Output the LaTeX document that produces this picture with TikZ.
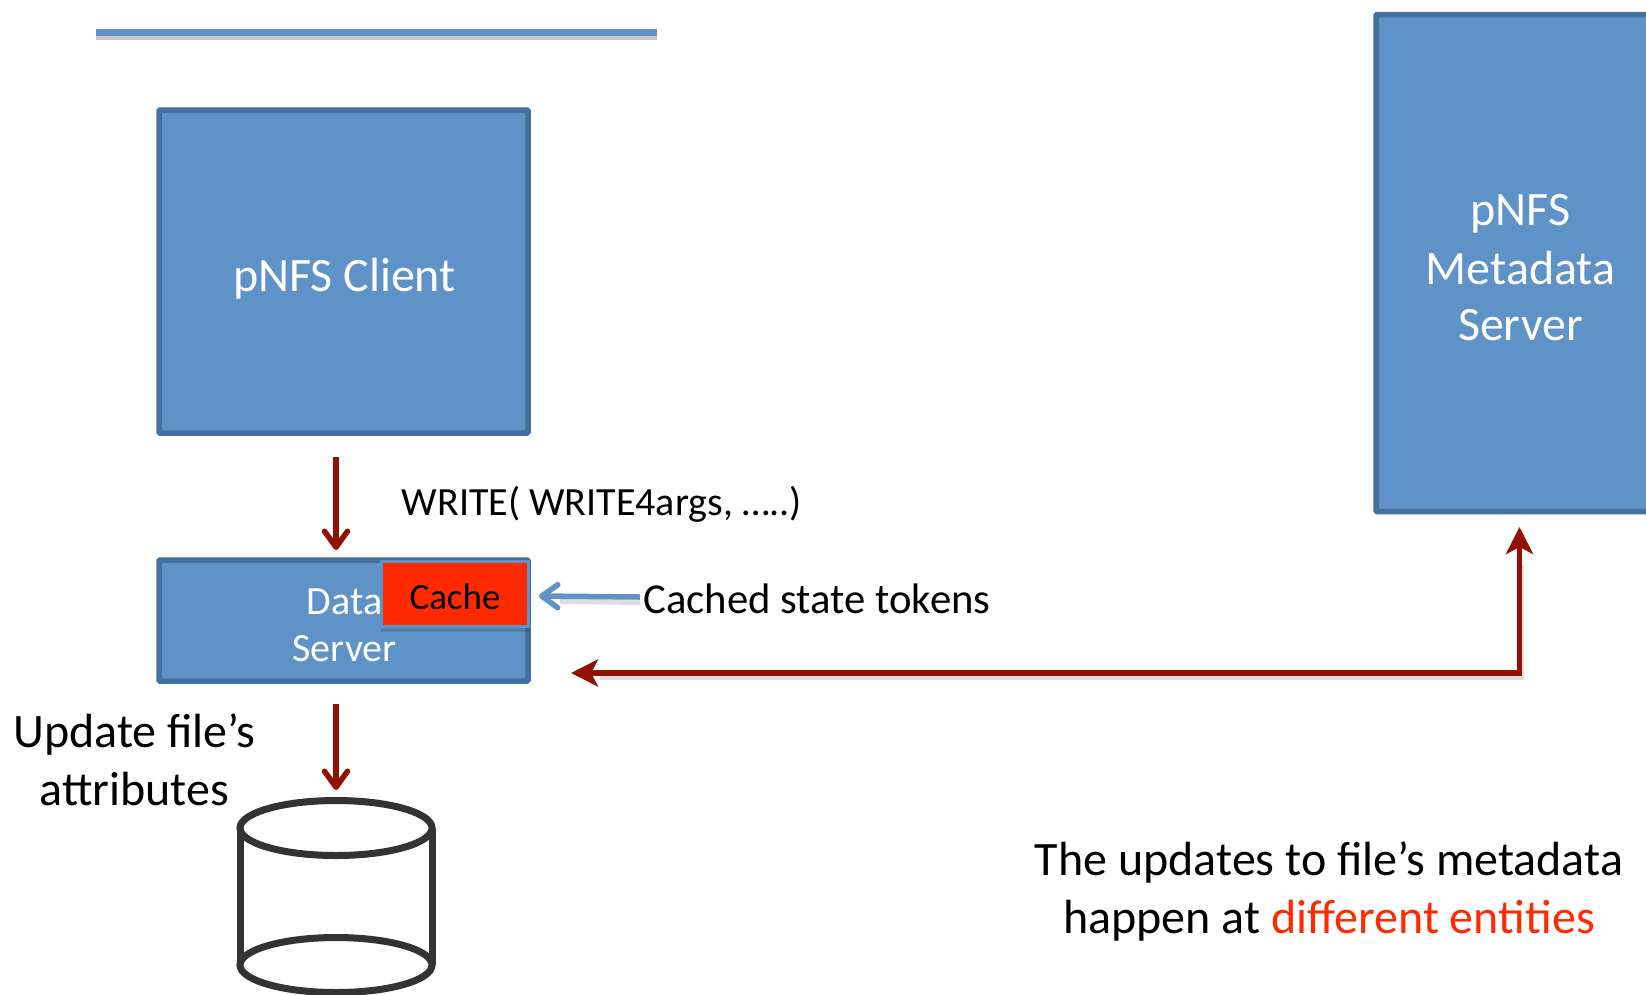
\documentclass[tikz,border=0pt]{standalone}
\usepackage{fontspec}
\setmainfont{Carlito}
\usetikzlibrary{arrows.meta}
\definecolor{boxfill}{HTML}{5F93C8}
\definecolor{boxline}{HTML}{44709D}
\definecolor{darkred}{HTML}{921100}
\definecolor{cachered}{HTML}{FF2A00}
\definecolor{cylline}{HTML}{333333}
\newcommand{\fs}[1]{\fontsize{#1}{#1}\selectfont}
\tikzset{
  bluebox/.style={draw=boxline,fill=boxfill,line width=5.5pt,rounded corners=1pt,inner sep=0pt,outer sep=0pt},
  whitetext/.style={text=white,inner sep=0pt,align=center},
  blacktext/.style={text=black,inner sep=0pt,align=center},
  redbarb/.style={draw=darkred,line width=5.5pt,-{Straight Barb[length=16pt,width=23pt,line width=5.5pt,round]}},
  redhead/.style={draw=darkred,line width=5.5pt},
  blueconn/.style={draw=boxfill,line width=5.5pt,-{Straight Barb[length=16pt,width=23pt,line width=5.5pt,round]}},
  shade/.style={draw=black,opacity=0.13,line width=6pt},
  cyl/.style={draw=cylline,line width=7pt,fill=white},
}
\begin{document}
\begin{tikzpicture}[x=1pt,y=-1pt]
\useasboundingbox (0,0) rectangle (1646,994);
\fill[white] (0,0) rectangle (1646,994);
% top bar
\coordinate (barL) at (96,32.5);
\coordinate (barR) at (657,32.5);
\draw[shade,opacity=0.22,line width=5pt] (96,37) -- (657,37);
\draw[boxfill,line width=7pt] (barL) -- (barR);
% boxes
\node[bluebox,minimum width=369pt,minimum height=323pt,anchor=north west] (client) at (159,110) {};
\node[whitetext,font=\fs{48},anchor=base] at (344.5,291) {pNFS Client};
\node[bluebox,minimum width=369pt,minimum height=121pt,anchor=north west] (data) at (159,560) {};
\node[whitetext,font=\fs{40},anchor=base] at (344.5,614) {Data};
\node[whitetext,font=\fs{40},anchor=base] at (344.5,661) {Server};
\fill[black,opacity=0.15] (381,566) rectangle (530,632);
\node[draw=boxfill,fill=cachered,line width=3pt,minimum width=147pt,minimum height=65pt,anchor=north west,inner sep=0pt,outer sep=0pt] (cache) at (381.5,561.5) {};
\node[blacktext,font=\fs{37},anchor=base] at (455,609) {Cache};
\node[bluebox,minimum width=290pt,minimum height=497pt,anchor=north west] (meta) at (1376,14.5) {};
\node[whitetext,font=\fs{48},anchor=base] at (1520.5,225) {pNFS};
\node[whitetext,font=\fs{48},anchor=base] at (1520.5,284) {Metadata};
\node[whitetext,font=\fs{48},anchor=base] at (1520.5,340) {Server};
% cylinder
\coordinate (cylTL) at (240,828);
\coordinate (cylTR) at (432,828);
\coordinate (cylBL) at (240,965);
\coordinate (cylBR) at (432,965);
\draw[cyl] (cylTL) -- (cylBL);
\draw[cyl] (cylTR) -- (cylBR);
\draw[cyl,fill=none] (336,965) ellipse [x radius=96, y radius=27.5];
\draw[cyl,fill=none] (336,828) ellipse [x radius=96, y radius=27.5];
% connectors
\coordinate (a1) at (336,457);
\coordinate (a2) at (336,550);
\draw[redbarb] (a1) -- (a2);
\coordinate (b1) at (336,704);
\coordinate (b2) at (336,790);
\draw[redbarb] (b1) -- (b2);
\coordinate (c1) at (640,597);
\coordinate (c2) at (539,596);
\draw[shade] (640,602) -- (560,601);
\draw[blueconn] (c1) -- (c2);
\coordinate (d1) at (571,673);
\coordinate (d2) at (1519.5,673);
\coordinate (d3) at (1519.5,527);
\draw[shade,line width=4pt] (600,678) -- (1522,678) -- (1522,565);
\draw[redhead,{Stealth[length=27pt,width=27pt,inset=7pt]}-{Stealth[length=27pt,width=27pt,inset=7pt]}] (d1) -- (d2) -- (d3);
% labels
\node[blacktext,font=\fs{40},anchor=base west] at (401.5,515) {WRITE( WRITE4args, …..)};
\node[blacktext,font=\fs{42.7},anchor=base west] at (643.5,613.5) {Cached state tokens};
\node[blacktext,font=\fs{48},anchor=base] at (134.5,747.5) {Update file’s};
\node[blacktext,font=\fs{48},anchor=base] at (134.5,805.5) {attributes};
\node[blacktext,font=\fs{48},anchor=base] at (1329,875) {The updates to file’s metadata};
\node[blacktext,font=\fs{48},anchor=base] at (1329,933) {happen at \textcolor{cachered}{different entities}};
\end{tikzpicture}
\end{document}
